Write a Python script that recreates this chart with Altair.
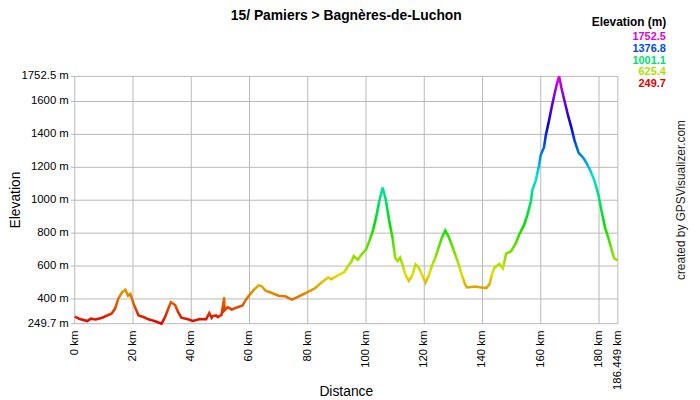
import colorsys
import altair as alt
import pandas as pd

# ---------------- data ----------------
title_text = "15/ Pamiers > Bagnères-de-Luchon"
credit_text = "created by GPSVisualizer.com"
legend_title = "Elevation (m)"
x_title = "Distance"
y_title = "Elevation"

dist_km = [
    0.0, 1.5, 4.3, 5.5, 7.2, 9.4, 11.7, 12.6, 13.8, 14.9, 16.2, 17.4, 18.3, 19.1,
    20.2, 21.9, 23.6, 25.3, 27.6, 29.8, 31.0, 32.1, 33.0, 34.4, 35.5, 36.6, 38.9,
    40.6, 42.9, 45.1, 46.2, 47.0, 47.4, 48.5, 49.1, 50.4, 51.3, 51.4, 52.5, 53.9,
    55.9, 57.6, 58.7, 59.8, 61.5, 63.2, 64.3, 65.5, 67.7, 70.0, 72.3, 74.5, 76.2,
    77.9, 80.2, 82.4, 84.7, 87.0, 88.1, 90.4, 92.6, 93.8, 94.9, 95.8, 97.2, 98.3,
    100.0, 101.1, 102.3, 103.4, 104.5, 105.7, 106.8, 107.9, 109.1, 110.0, 110.8,
    111.7, 112.5, 113.6, 114.7, 115.9, 117.0, 118.1, 119.3, 120.4, 121.5, 122.6,
    123.8, 124.9, 126.0, 127.2, 128.3, 129.4, 130.6, 131.7, 132.8, 134.0, 134.7,
    137.4, 139.6, 141.3, 142.4, 143.4, 144.1, 145.8, 147.0, 148.1, 149.8, 151.5,
    152.6, 154.3, 155.4, 156.6, 157.1, 158.3, 159.4, 160.0, 161.1, 161.7, 162.8,
    163.7, 164.8, 165.6, 166.3, 167.1, 168.3, 169.4, 170.5, 171.6, 173.0, 174.7,
    175.8, 177.0, 178.4, 179.8, 180.9, 182.1, 183.2, 184.3, 185.2, 186.449,
]
elev_m = [
    293, 280, 266, 280, 275, 286, 304, 310, 340, 400, 440, 456, 420, 430,
    370, 300, 290, 276, 264, 249.7, 290, 340, 380, 364, 320, 286, 276,
    266, 278, 277, 314, 286, 296, 300, 290, 304, 410, 330, 350, 336,
    350, 360, 394, 420, 456, 484, 476, 450, 436, 420, 416, 396, 410,
    424, 444, 464, 500, 530, 520, 544, 564, 600, 624, 660, 638, 667,
    700, 750, 810, 891, 991, 1077, 1001, 881, 771, 651, 630,
    651, 610, 544, 510, 544, 610, 590, 544, 500, 540, 600,
    651, 711, 771, 816, 780, 731, 670, 616, 550, 490, 470,
    476, 470, 466, 490, 560, 590, 612, 586, 675, 690, 741,
    791, 851, 911, 991, 1061, 1121, 1211, 1276, 1321, 1392, 1482,
    1562, 1652, 1712, 1752.5, 1682, 1592, 1512, 1442, 1362, 1288, 1255,
    1222, 1181, 1121, 1031, 931, 831, 771, 700, 646, 634,
]
legend_values = [1752.5, 1376.8, 1001.1, 625.4, 249.7]
x_ticks = [0, 20, 40, 60, 80, 100, 120, 140, 160, 180, 186.449]
y_ticks = [249.7, 400, 600, 800, 1000, 1200, 1400, 1600, 1752.5]

E_MIN, E_MAX = 249.7, 1752.5
X_MAX = 186.449

# ---------------- styling ----------------
FONT = "Liberation Sans"
GRID = "#b8b8b8"
W, H = 549, 250
TICK_PX = 4


def hue_hex(h):
    r, g, b = colorsys.hls_to_rgb(h / 360.0, 0.44, 1.0)
    return "#%02x%02x%02x" % (round(r * 255), round(g * 255), round(b * 255))


n_stops = 11
stop_colors = [hue_hex(300 * i / (n_stops - 1)) for i in range(n_stops)]
stop_domain = [E_MIN + (E_MAX - E_MIN) * i / (n_stops - 1) for i in range(n_stops)]

x_scale = alt.Scale(domain=[0, X_MAX], nice=False, zero=False)
y_scale = alt.Scale(domain=[E_MIN, E_MAX], nice=False, zero=False)

profile = pd.DataFrame({"km": dist_km, "elev": elev_m})

# one grid table built from the tick lists: vertical lines at x ticks,
# horizontal lines at y ticks (starting a short tick stub left of the plot)
tick_start = -TICK_PX * X_MAX / W
grid_df = pd.DataFrame(
    {
        "gx": list(x_ticks) + [tick_start] * len(y_ticks),
        "gx2": list(x_ticks) + [X_MAX] * len(y_ticks),
        "gy": [E_MIN] * len(x_ticks) + list(y_ticks),
        "gy2": [E_MAX] * len(x_ticks) + list(y_ticks),
    }
)
grid = (
    alt.Chart(grid_df)
    .mark_rule(color=GRID, strokeWidth=1, clip=False)
    .encode(
        x=alt.X("gx:Q", scale=x_scale, axis=None),
        x2="gx2:Q",
        y=alt.Y("gy:Q", scale=y_scale, axis=None),
        y2="gy2:Q",
    )
)

X = alt.X("km:Q", scale=x_scale, axis=None)
Y = alt.Y("elev:Q", scale=y_scale, axis=None)

x_labels = (
    alt.Chart(pd.DataFrame({"km": x_ticks}))
    .transform_calculate(lab="datum.km + ' km'")
    .mark_text(font=FONT, fontSize=11.5, angle=270, align="right", baseline="middle", color="#000000")
    .encode(x=X, y=alt.value(H + 7), text="lab:N")
)
y_labels = (
    alt.Chart(pd.DataFrame({"elev": y_ticks}))
    .transform_calculate(lab="datum.elev + ' m'")
    .mark_text(font=FONT, fontSize=11.5, align="right", baseline="middle", color="#000000")
    .encode(y=Y, x=alt.value(-6), text="lab:N")
)

gradient = alt.Gradient(
    gradient="linear",
    x1=0, y1=1, x2=0, y2=0,
    stops=[alt.GradientStop(offset=i / (n_stops - 1), color=c) for i, c in enumerate(stop_colors)],
)

line = alt.Chart(profile).mark_line(
    stroke=gradient, strokeWidth=2.6, strokeJoin="miter", clip=False
).encode(x=X, y=Y)

legend_df = pd.DataFrame({"v": legend_values})
legend_vals = (
    alt.Chart(legend_df)
    .transform_window(row="row_number()")
    .transform_calculate(ypix="-49 + 12 * datum.row", lab="format(datum.v, '.1f')")
    .mark_text(font=FONT, fontSize=11, fontWeight="bold", align="right", baseline="alphabetic")
    .encode(
        x=alt.value(597.5),
        y=alt.Y("ypix:Q", scale=None, axis=None),
        text="lab:N",
        color=alt.Color("v:Q", scale=alt.Scale(domain=stop_domain, range=stop_colors), legend=None),
    )
)


def label(text, x, y, **kw):
    return (
        alt.Chart(pd.DataFrame({"t": [text]}))
        .mark_text(font=FONT, baseline="alphabetic", **kw)
        .encode(x=alt.value(x), y=alt.value(y), text="t:N")
    )


legend_head = label(legend_title, 598, -51, fontSize=12, fontWeight="bold", align="right", color="#000000")
title_mark = label(title_text, W / 2, -57, fontSize=14, fontWeight="bold", align="center", color="#000000")
x_title_mark = label(x_title, W / 2, H + 73, fontSize=14, align="center", color="#000000")
y_title_mark = label(y_title, -55, H / 2, fontSize=14, align="center", angle=270, color="#000000")
credit = label(credit_text, 616.5, H / 2, fontSize=12, align="center", angle=270, color="#222222")

chart = (
    alt.layer(
        grid, line, x_labels, y_labels,
        legend_vals, legend_head, title_mark, x_title_mark, y_title_mark, credit,
    )
    .properties(
        width=W,
        height=H,
        autosize=alt.AutoSizeParams(type="none"),
        padding={"left": 67.5, "top": 67, "right": 75, "bottom": 74},
        background="#ffffff",
    )
    .configure_view(stroke=None)
)

chart.save("out.html", embed_options={"renderer": "svg", "actions": False})
